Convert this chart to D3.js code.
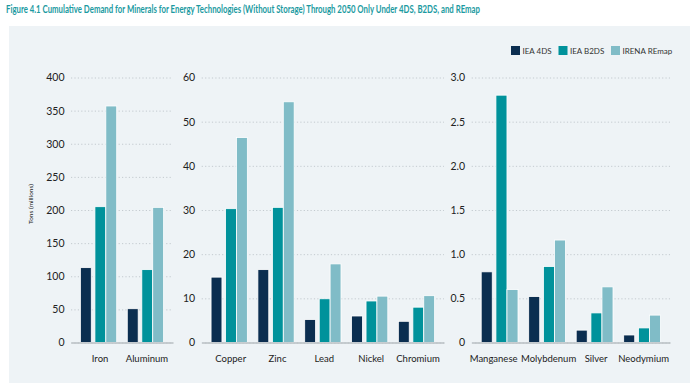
<!DOCTYPE html>
<html>
<head>
<meta charset="utf-8">
<script src="https://cdn.jsdelivr.net/npm/d3@7"></script>
<style>
  body { margin: 0; background: #fff; }
  text { font-family: Lato, "Liberation Sans", sans-serif; }
</style>
</head>
<body>
<div id="chart"></div>
<script>
// Data (tons, millions)
const series = ["IEA 4DS", "IEA B2DS", "IRENA REmap"];
const colors = ["#0b2e50", "#00929b", "#80bcc7"];

const cats1 = ["Iron", "Aluminum"];
const dds1 = [113, 51];
const b2ds1 = [205, 110];
const remap1 = [357, 204];
const ticks1 = [0, 50, 100, 150, 200, 250, 300, 350, 400];

const cats2 = ["Copper", "Zinc", "Lead", "Nickel", "Chromium"];
const dds2 = [14.8, 16.5, 5.2, 6.0, 4.8];
const b2ds2 = [30.3, 30.6, 9.9, 9.4, 8.0];
const remap2 = [46.4, 54.5, 17.8, 10.5, 10.6];
const ticks2 = [0, 10, 20, 30, 40, 50, 60];

const cats3 = ["Manganese", "Molybdenum", "Silver", "Neodymium"];
const dds3 = [0.8, 0.52, 0.14, 0.085];
const b2ds3 = [2.8, 0.86, 0.335, 0.165];
const remap3 = [0.6, 1.16, 0.63, 0.31];
const ticks3 = [0, 0.5, 1.0, 1.5, 2.0, 2.5, 3.0];

const width = 690;
const height = 383;
const plotTop = 77.5, plotBottom = 342.5;

const svg = d3.select("#chart")
  .append("svg")
  .attr("width", width)
  .attr("height", height);

// Title
svg.append("text")
  .attr("x", 6)
  .attr("y", 12.5)
  .attr("textLength", 474)
  .attr("lengthAdjust", "spacingAndGlyphs")
  .attr("font-size", 11)
  .attr("font-weight", "bold")
  .attr("fill", "#1b9aa1")
  .text("Figure 4.1 Cumulative Demand for Minerals for Energy Technologies (Without Storage) Through 2050 Only Under 4DS, B2DS, and REmap");

// Panel background
svg.append("rect")
  .attr("x", 9)
  .attr("y", 26)
  .attr("width", width - 9)
  .attr("height", height - 26)
  .attr("fill", "#eef3f6");

// Y axis title
svg.append("text")
  .attr("transform", "translate(33,204) rotate(-90)")
  .attr("text-anchor", "middle")
  .attr("font-size", 6.5)
  .attr("fill", "#222")
  .text("Tons (millions)");

// Legend
const legendX = [511, 558.5, 611];
series.forEach((s, i) => {
  svg.append("rect")
    .attr("x", legendX[i])
    .attr("y", 46)
    .attr("width", 9)
    .attr("height", 9)
    .attr("fill", colors[i]);
  svg.append("text")
    .attr("x", legendX[i] + 11.5)
    .attr("y", 54)
    .attr("font-size", 8)
    .attr("fill", "#333")
    .text(s);
});

const panels = [
  { cats: cats1, vals: [dds1, b2ds1, remap1], ticks: ticks1, x0: 71, x1: 173, fmt: d3.format("d") },
  { cats: cats2, vals: [dds2, b2ds2, remap2], ticks: ticks2, x0: 201.7, x1: 444, fmt: d3.format("d") },
  { cats: cats3, vals: [dds3, b2ds3, remap3], ticks: ticks3, x0: 471.7, x1: 670, fmt: d => d === 0 ? "0" : d3.format(".1f")(d) }
];

panels.forEach(p => drawPanel(p));

function drawPanel(p) {
  const x = d3.scaleBand()
    .domain(p.cats)
    .range([p.x0, p.x1])
    .paddingInner(0.225)
    .paddingOuter(0.2);

  const y = d3.scaleLinear()
    .domain([0, d3.max(p.ticks)])
    .range([plotBottom, plotTop]);

  // bar offsets inside a group (4DS, gap, B2DS + REmap touching)
  const off = d3.scaleOrdinal().domain(series).range([0, 0.4, 0.7]);
  const bw = x.bandwidth() * 0.3;

  // Y axis with dotted grid
  const gy = svg.append("g")
    .attr("transform", `translate(${p.x0},0)`)
    .call(d3.axisLeft(y)
      .tickValues(p.ticks)
      .tickFormat(p.fmt)
      .tickSize(-(p.x1 - p.x0))
      .tickPadding(6.5));
  gy.select(".domain").remove();
  gy.selectAll(".tick line")
    .attr("stroke", "#c3cacf")
    .attr("stroke-dasharray", "1.2,2.2");
  gy.selectAll(".tick text")
    .attr("font-size", 10.5)
    .attr("fill", "#222")
    .attr("font-family", "Lato, sans-serif");

  // Bars
  const rows = [];
  p.cats.forEach((c, i) => {
    series.forEach((s, j) => rows.push({ cat: c, series: s, value: p.vals[j][i], color: colors[j] }));
  });

  svg.append("g")
    .selectAll("rect")
    .data(rows)
    .join("rect")
    .attr("x", d => x(d.cat) + off(d.series) * x.bandwidth())
    .attr("y", d => y(d.value))
    .attr("width", bw)
    .attr("height", d => y(0) - y(d.value))
    .attr("fill", d => d.color)
    .attr("stroke", "#fff")
    .attr("stroke-width", 0.8);

  // X axis
  const gx = svg.append("g")
    .attr("transform", `translate(0,${plotBottom})`)
    .call(d3.axisBottom(x).tickSize(0).tickSizeOuter(0).tickPadding(12.5));
  gx.select(".domain")
    .attr("stroke", "#b8bfc3")
    .attr("stroke-width", 1.6);
  gx.selectAll(".tick text")
    .attr("font-size", 9.5)
    .attr("fill", "#222")
    .attr("font-family", "Lato, sans-serif")
    .attr("dx", d => d === "Manganese" ? -6 : 1.5);
}
</script>
</body>
</html>
